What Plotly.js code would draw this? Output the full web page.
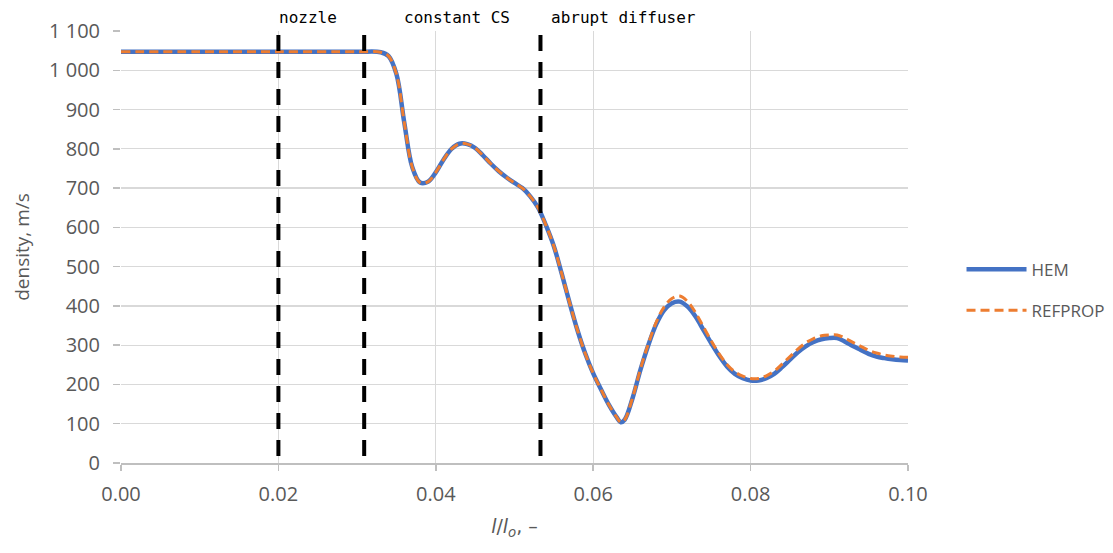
<!DOCTYPE html>
<html>
<head>
<meta charset="utf-8">
<script src="https://cdn.plot.ly/plotly-3.0.1.min.js"></script>
<style>html,body{margin:0;padding:0;background:#fff;}#chart{width:1113px;height:553px;}</style>
</head>
<body>
<div id="chart"></div>
<script>
// Position along the ejector, l/l_o (-)
const xPos = [0, 0.01, 0.02, 0.03, 0.033, 0.034, 0.035, 0.036, 0.037, 0.038, 0.039, 0.040,
  0.041, 0.042, 0.043, 0.044, 0.045, 0.046, 0.047, 0.048, 0.049, 0.050, 0.051, 0.052, 0.053,
  0.054, 0.055, 0.056, 0.057, 0.058, 0.059, 0.060, 0.061, 0.062, 0.063, 0.0635, 0.064, 0.065, 0.066,
  0.067, 0.068, 0.069, 0.070, 0.071, 0.072, 0.073, 0.074, 0.075, 0.076, 0.077, 0.078, 0.079,
  0.080, 0.081, 0.082, 0.083, 0.084, 0.085, 0.086, 0.087, 0.088, 0.089, 0.090, 0.091, 0.092,
  0.093, 0.094, 0.095, 0.096, 0.097, 0.098, 0.099, 0.100];

// HEM series
const hem = [1047, 1047, 1047, 1047, 1046, 1036, 990, 866, 754, 714, 716, 740,
  773, 800, 813, 812, 802, 783, 762, 743, 727, 713, 700, 679, 650,
  605, 552, 482, 408, 338, 278, 228, 187, 148, 116, 104, 110, 165, 237,
  300, 353, 389, 407, 411, 398, 373, 339, 305, 273, 246, 227, 216,
  210, 210, 216, 227, 244, 263, 282, 297, 308, 315, 318, 318, 309,
  298, 288, 278, 271, 267, 264, 262, 261];

// REFPROP series
const refprop = [1047, 1047, 1047, 1047, 1046, 1036, 990, 866, 754, 714, 716, 740,
  773, 800, 813, 812, 802, 783, 762, 743, 727, 713, 700, 679, 650,
  605, 552, 482, 408, 338, 278, 228, 187, 148, 116, 104, 110, 166, 239,
  303, 358, 397, 419, 425, 411, 383, 347, 311, 278, 251, 232, 221,
  215, 215, 222, 234, 252, 271, 290, 306, 317, 324, 326, 326, 318,
  307, 297, 287, 280, 275, 272, 270, 269];

// Section boundaries and labels
const boundaries = [0.02, 0.0309, 0.0533];
const sectionLabels = ["nozzle", "constant CS", "abrupt diffuser"];
const sectionLabelX = [0.0198, 0.0357, 0.0544];

const xTicks = [0, 0.02, 0.04, 0.06, 0.08, 0.10];

const gray = '#595959';

const traces = [
  {x: xPos, y: hem, name: 'HEM', type: 'scatter', mode: 'lines', legendgroup: 'a',
   line: {color: '#4472C4', width: 4.5, shape: 'spline', smoothing: 1}},
  {x: xPos, y: refprop, name: 'REFPROP', type: 'scatter', mode: 'lines', legendgroup: 'b',
   line: {color: '#ED7D31', width: 3, dash: '9px,5px', shape: 'spline', smoothing: 1}}
];

const shapes = boundaries.map(b => ({
  type: 'line', xref: 'x', yref: 'y', x0: b, x1: b, y0: 1090, y1: 0,
  line: {color: '#000000', width: 4, dash: '16px,11px'}, layer: 'above'
}));

const annotations = sectionLabels.map((t, i) => ({
  text: t, xref: 'x', yref: 'paper', x: sectionLabelX[i], y: 1.0, yshift: 14,
  xanchor: 'left', yanchor: 'middle', showarrow: false,
  font: {family: 'DejaVu Sans Mono', size: 16, color: '#000000'}
}));

const layout = {
  width: 1113, height: 553,
  margin: {l: 121, r: 205, t: 31, b: 90, autoexpand: false},
  paper_bgcolor: '#ffffff', plot_bgcolor: '#ffffff',
  separators: '. ',
  font: {family: 'Open Sans', color: gray, size: 20},
  showlegend: true,
  legend: {x: 1.068, xanchor: 'left', y: 0.40, yanchor: 'middle',
    font: {family: 'Open Sans', size: 17, color: gray},
    traceorder: 'grouped', tracegroupgap: 16, itemwidth: 60,
    bgcolor: 'rgba(0,0,0,0)'},
  xaxis: {
    range: [0, 0.1], tickvals: xTicks, tickformat: '.2f', automargin: false,
    showgrid: true, gridcolor: '#d9d9d9', gridwidth: 1.3,
    showline: true, linecolor: '#bfbfbf', linewidth: 2,
    ticks: 'outside', ticklen: 6, tickcolor: '#bfbfbf', tickwidth: 1.5,
    zeroline: false, ticklabelstandoff: 6,
    tickfont: {family: 'Open Sans', size: 20, color: gray},
    title: {text: '<i>l</i>/<i>l</i><sub><i>o</i></sub>, –',
      font: {family: 'DejaVu Sans', size: 19, color: gray}, standoff: 14}
  },
  yaxis: {
    range: [0, 1100], dtick: 100, separatethousands: true, automargin: false,
    showgrid: true, gridcolor: '#d9d9d9', gridwidth: 1.3,
    showline: false, zeroline: false,
    ticks: 'outside', ticklen: 7, tickcolor: '#bfbfbf', tickwidth: 1.5,
    ticklabelstandoff: 9,
    tickfont: {family: 'Open Sans', size: 20, color: gray},
    title: {text: 'density, m/s', font: {family: 'Open Sans', size: 19, color: gray}, standoff: 14}
  },
  shapes: shapes,
  annotations: annotations
};

Plotly.newPlot('chart', traces, layout, {displayModeBar: false, staticPlot: true});
</script>
</body>
</html>
